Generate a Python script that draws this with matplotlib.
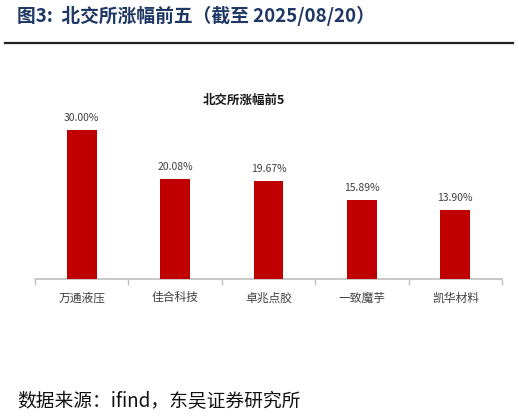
import matplotlib.pyplot as plt
from matplotlib.lines import Line2D

plt.rcParams['font.family'] = ['Noto Sans CJK SC', 'DejaVu Sans']

names = ['万通液压', '佳合科技', '卓兆点胶', '一致魔芋', '凯华材料']
gains = [30.00, 20.08, 19.67, 15.89, 13.90]
labels = ['30.00%', '20.08%', '19.67%', '15.89%', '13.90%']

W, H = 519, 416
fig = plt.figure(figsize=(W / 100, H / 100), dpi=100)

# axes placed in pixel terms: baseline y=279, x from 35 to 502
top_px = 90
ax = fig.add_axes([35 / W, 1 - 279 / H, (502 - 35) / W, (279 - top_px) / H])
x = list(range(len(names)))
ax.bar(x, gains, width=0.32, color='#C00000', zorder=3)
ax.set_xlim(-0.5, len(names) - 0.5)
ax.set_ylim(0, 30 / 149 * (279 - top_px))

for i, (v, s) in enumerate(zip(gains, labels)):
    ax.annotate(s, (i, v), xytext=(0, 5), textcoords='offset points',
                ha='center', va='bottom', fontsize=7.5, color='#404040')

for side in ['top', 'right', 'left']:
    ax.spines[side].set_visible(False)
ax.spines['bottom'].set_color('#BFBFBF')
ax.spines['bottom'].set_linewidth(1.2)
ax.set_yticks([])
ax.set_xticks([i - 0.5 for i in range(len(names) + 1)])
ax.set_xticklabels([])
ax.tick_params(axis='x', direction='out', length=4, color='#BFBFBF', width=1)
for i, n in enumerate(names):
    ax.text(i, -0.065, n, transform=ax.get_xaxis_transform(), ha='center', va='top',
            fontsize=8.5, color='#404040')

fig.text(244 / W, 1 - 100 / H, '北交所涨幅前5', ha='center', va='center',
         fontsize=9, fontweight='bold', color='#1a1a1a')

fig.text(17 / W, 1 - 16 / H, '图3:  北交所涨幅前五（截至 2025/08/20）', ha='left', va='center',
         fontsize=13.5, fontweight='bold', color='#1F3864')
fig.add_artist(Line2D([5 / W, 513 / W], [1 - 43 / H, 1 - 43 / H], color='#222222', lw=1.6))

fig.text(17 / W, 1 - 402 / H, '数据来源：ifind，东吴证券研究所', ha='left', va='center',
         fontsize=13.5, color='#111111')

fig.savefig('out.png', dpi=100)
